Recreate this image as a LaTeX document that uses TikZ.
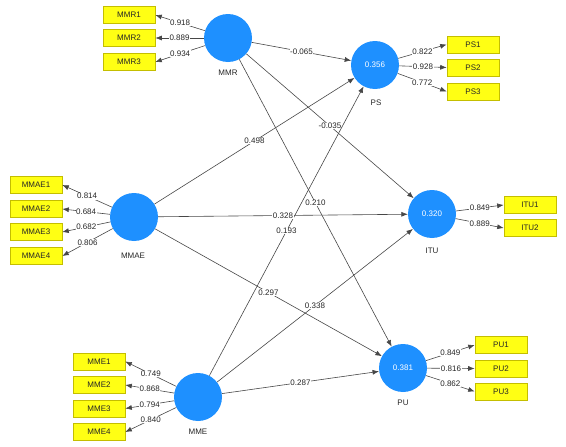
\documentclass[tikz,border=0pt]{standalone}
\usepackage{fontspec}
\setmainfont{Liberation Sans}
\usetikzlibrary{arrows.meta}
\definecolor{lvblue}{RGB}{30,144,255}
\definecolor{mvfill}{RGB}{255,255,20}
\definecolor{mvedge}{RGB}{196,190,0}
\tikzset{
  lv/.style={circle,fill=lvblue,minimum size=48pt,inner sep=0pt,text=white,font=\fontsize{8}{9.5}\selectfont},
  mv/.style={rectangle,draw=mvedge,fill=mvfill,minimum width=52pt,minimum height=17pt,inner sep=0pt,line width=.6pt,font=\fontsize{8}{9.5}\selectfont,text=black!85},
  pth/.style={draw=black!72,line width=.6pt,-{Latex[length=6.5pt,width=5pt]}},
  ld/.style={draw=black!72,line width=.6pt,-{Latex[length=6.5pt,width=5pt]}},
  cf/.style={fill=white,inner sep=.6pt,font=\fontsize{8}{9.5}\selectfont,text=black!85},
  lb/.style={font=\fontsize{8}{9.5}\selectfont,text=black!85},
}
\begin{document}
\begin{tikzpicture}[x=1pt,y=-1pt]
\useasboundingbox (0,0) rectangle (566,447);
% --- latent variables
\node[lv] (MMR) at (228,38) {};
\node[lv] (PS) at (375,65) {0.356};
\node[lv] (MMAE) at (134,217) {};
\node[lv] (ITU) at (432,214) {0.320};
\node[lv] (MME) at (198,397) {};
\node[lv] (PU) at (403,368) {0.381};
\foreach \n/\x/\y in {MMR/228/73, PS/376/103, MMAE/133/256, ITU/432/251, MME/198/432, PU/403/403}{
  \node[lb] (\n-name) at (\x,\y) {\n};
}
% --- indicators on the left
\foreach \l/\i/\x/\y/\w in {MMR/MMR1/129/15/0.918, MMR/MMR2/129/38/0.889, MMR/MMR3/129/62/0.934,
                            MMAE/MMAE1/36/185/0.814, MMAE/MMAE2/36/209/0.684,
                            MMAE/MMAE3/36/232/0.682, MMAE/MMAE4/36/256/0.806,
                            MME/MME1/99/361.5/0.749, MME/MME2/99/385/0.868,
                            MME/MME3/99/408.5/0.794, MME/MME4/99/432/0.840}{
  \node[mv] (\i) at (\x,\y) {\i};
  \draw[ld] (\l) -- node[cf] {\w} (\i.east);
}
% --- indicators on the right
\foreach \l/\i/\x/\y/\w in {PS/PS1/473/44.5/0.822, PS/PS2/473/67.5/0.928, PS/PS3/473/91.5/0.772,
                            ITU/ITU1/530/205/0.849, ITU/ITU2/530/228/0.889,
                            PU/PU1/501/345/0.849, PU/PU2/501/368.5/0.816, PU/PU3/501/391.5/0.862}{
  \node[mv] (\i) at (\x,\y) {\i};
  \draw[ld] (\l) -- node[cf] {\w} (\i.west);
}
% --- structural paths
\draw[pth] (MMR) -- node[cf] {-0.065} (PS);
\draw[pth] (MMR) -- node[cf] {-0.035} (ITU);
\draw[pth] (MMR) -- node[cf] {0.210} (PU);
\draw[pth] (MMAE) -- node[cf] {0.498} (PS);
\draw[pth] (MMAE) -- node[cf] {0.297} (PU);
\draw[pth] (MME) -- node[cf] {0.193} (PS);
\draw[pth] (MMAE) -- node[cf] {0.328} (ITU);
\draw[pth] (MME) -- node[cf] {0.338} (ITU);
\draw[pth] (MME) -- node[cf] {0.287} (PU);
\end{tikzpicture}
\end{document}
